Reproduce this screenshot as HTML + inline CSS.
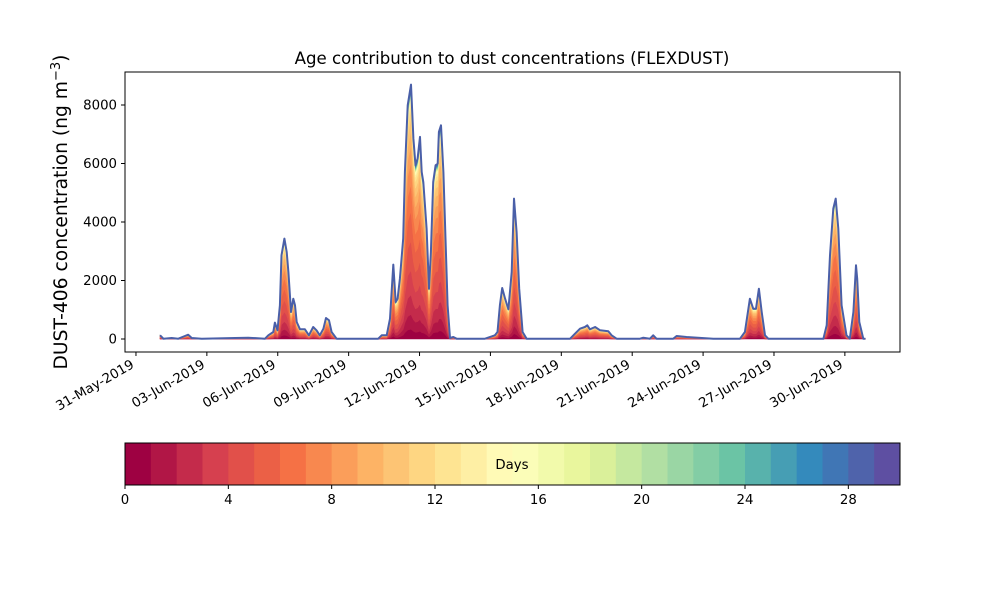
<!DOCTYPE html>
<html><head><meta charset="utf-8"><style>
body{margin:0;background:#fff;font-family:"DejaVu Sans",sans-serif}
svg text{font-family:"DejaVu Sans",sans-serif;fill:#000}
</style></head><body>
<svg id="c" width="1000" height="600" viewBox="0 0 1000 600">
<rect width="1000" height="600" fill="#fff"/>
<text x="512" y="64" font-size="16.6" text-anchor="middle">Age contribution to dust concentrations (FLEXDUST)</text>
<text transform="translate(67,212) rotate(-90)" font-size="18.7" text-anchor="middle">DUST-406 concentration (ng m<tspan dy="-7" font-size="13">−3</tspan><tspan dy="7">)</tspan></text>
<g id="plot"></g>
<rect x="125" y="72" width="775" height="280" fill="none" stroke="#000" stroke-width="1"/>
<g id="axes"></g>
<g id="cbar"></g>
</svg>
<script>
const days=[0.02,0.16,0.51,0.79,1.07,1.21,1.36,1.78,3.19,3.75,4.46,4.60,4.81,4.88,4.99,5.09,5.16,5.28,5.38,5.45,5.56,5.66,5.73,5.80,5.94,6.15,6.32,6.50,6.64,6.78,6.93,7.04,7.17,7.28,7.49,9.25,9.40,9.61,9.75,9.89,9.99,10.07,10.17,10.31,10.38,10.50,10.64,10.74,10.83,10.92,11.02,11.09,11.16,11.30,11.40,11.48,11.58,11.68,11.77,11.82,11.91,12.01,12.10,12.19,12.29,12.43,12.57,13.77,14.19,14.30,14.40,14.50,14.62,14.76,14.90,15.00,15.11,15.22,15.36,15.53,17.37,17.58,17.79,18.00,18.10,18.21,18.43,18.64,18.99,19.13,19.34,20.33,20.47,20.75,20.89,21.03,21.74,21.88,22.30,23.43,24.56,24.77,24.98,25.12,25.24,25.36,25.48,25.62,25.76,28.09,28.23,28.37,28.51,28.61,28.72,28.86,29.07,29.21,29.36,29.47,29.52,29.61,29.78,29.87];
const totals=[125,11,34,11,103,148,34,11,34,46,11,125,239,559,296,1151,2861,3431,2975,2291,923,1379,1151,581,331,331,125,410,296,125,353,718,638,239,11,11,125,125,695,2542,1265,1379,2063,3431,5711,7991,8698,6851,5939,6167,6908,5711,5369,3773,1721,2975,5369,5939,5996,7079,7307,5711,3431,1151,34,68,11,11,125,239,1151,1744,1379,1015,2291,4799,3659,1721,239,11,11,182,353,410,467,331,410,296,262,125,11,11,46,11,125,11,11,103,68,11,11,239,1379,1037,1037,1721,923,125,11,11,467,2861,4457,4799,3773,1151,125,11,923,2519,2063,581,11,11];
const ageFractions=[0.04,0.06,0.08,0.1,0.12,0.12,0.11,0.09,0.07,0.06,0.05,0.04,0.025,0.015,0.01,0.005,0.003,0.003,0.003,0.003,0.003,0.003,0.003,0.003,0.003,0.003,0.003,0.003,0.003,0.003];
const yTicks=[0,2000,4000,6000,8000];
const xTickDays=[-1,2,5,8,11,14,17,20,23,26,29];
const xTickLabels=["31-May-2019","03-Jun-2019","06-Jun-2019","09-Jun-2019","12-Jun-2019","15-Jun-2019","18-Jun-2019","21-Jun-2019","24-Jun-2019","27-Jun-2019","30-Jun-2019"];
const cbTicks=[0,4,8,12,16,20,24,28];

const NS="http://www.w3.org/2000/svg";
function mk(t,a,p){const e=document.createElementNS(NS,t);for(const k in a)e.setAttribute(k,a[k]);p.appendChild(e);return e;}
const X=d=>159.6+d*23.63;
const Y=v=>339-v*0.02925;
const anchors=["#9e0142","#d53e4f","#f46d43","#fdae61","#fee08b","#ffffbf","#e6f598","#abdda4","#66c2a5","#3288bd","#5e4fa2"];
function spectral(t){const p=t*10,i=Math.min(9,Math.floor(p)),f=p-i;const a=anchors[i],b=anchors[i+1];const c=[1,3,5].map(k=>Math.round(parseInt(a.substr(k,2),16)*(1-f)+parseInt(b.substr(k,2),16)*f));return `rgb(${c.join(",")})`;}
const plot=document.getElementById('plot');
const fs=ageFractions.reduce((a,b)=>a+b,0);
let cum=days.map(()=>0);
for(let k=0;k<ageFractions.length;k++){
  const lo=cum.slice();
  cum=cum.map((c,i)=>c+totals[i]*ageFractions[k]/fs);
  let d="M"+days.map((dd,i)=>X(dd).toFixed(1)+","+Y(cum[i]).toFixed(1)).join("L");
  for(let i=days.length-1;i>=0;i--)d+="L"+X(days[i]).toFixed(1)+","+Y(lo[i]).toFixed(1);
  const p=mk('path',{d:d+"Z",fill:spectral(k/29),stroke:spectral(k/29),'stroke-width':0.6},plot);
  
  
}
const line=mk('path',{d:"M"+days.map((dd,i)=>X(dd).toFixed(1)+","+Y(totals[i]).toFixed(1)).join("L"),fill:"none",stroke:"#4a5fa8",'stroke-width':2,'stroke-linejoin':'round'},plot);



const ax=document.getElementById('axes');
yTicks.forEach(v=>{
  mk('line',{x1:121,x2:125,y1:Y(v),y2:Y(v),stroke:'#000'},ax);
  const t=mk('text',{x:117,y:Y(v)+4.5,'font-size':13.3,'text-anchor':'end'},ax);t.textContent=v;
  
  
});
xTickDays.forEach((d,i)=>{
  const x=X(d);
  mk('line',{x1:x,x2:x,y1:352,y2:356,stroke:'#000'},ax);
  const t=mk('text',{x:0,y:0,'font-size':13.3,'text-anchor':'end',transform:`translate(${x-1},${367}) rotate(-30)`},ax);t.textContent=xTickLabels[i];
  
  
});

const cb=document.getElementById('cbar');
const cw=775/30;
for(let k=0;k<30;k++){
  const r=mk('rect',{x:125+k*cw,y:443,width:cw+0.5,height:42,fill:spectral(k/29)},cb);
  
  
}
mk('rect',{x:125,y:443,width:775,height:42,fill:'none',stroke:'#000'},cb);
const dl=mk('text',{x:512,y:469,'font-size':13.3,'text-anchor':'middle'},cb);dl.textContent="Days";


cbTicks.forEach(v=>{
  const x=125+v*cw;
  mk('line',{x1:x,x2:x,y1:485,y2:489,stroke:'#000'},cb);
  const t=mk('text',{x:x,y:504,'font-size':13.3,'text-anchor':'middle'},cb);t.textContent=v;
  
  
});
</script>
</body></html>
